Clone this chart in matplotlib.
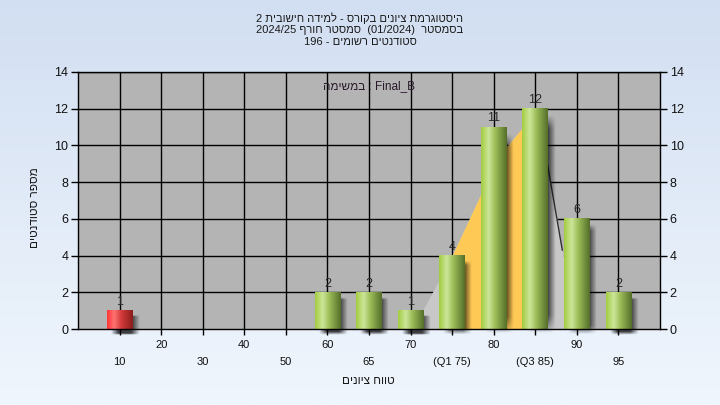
import re
import matplotlib
matplotlib.use("Agg")
import matplotlib.pyplot as plt
import numpy as np
from matplotlib.colors import LinearSegmentedColormap

plt.rcParams['font.family'] = ['Liberation Sans', 'DejaVu Sans']

# נתונים
categories = ["10", "20", "30", "40", "50", "60", "65", "70", "(Q1 75)", "80", "(Q3 85)", "90", "95"]
counts = [1, 0, 0, 0, 0, 2, 2, 1, 4, 11, 12, 6, 2]
fail_flags = [True] + [False] * 12
# עקומה (מיקום ביחידות קטגוריה, גובה)
curve_x = [8.05, 9.0, 9.7, 10.3, 10.7, 11.1, 11.65, 12.0]
curve_y = [0.0, 4.0, 7.4, 9.9, 11.0, 11.5, 4.3, 0.0]
q1_pos, q3_pos = 9.0, 11.0

title_lines = ["היסטוגרמת ציונים בקורס - למידה חישובית 2",
               "בסמסטר  (01/2024)  סמסטר חורף 2024/25",
               "סטודנטים רשומים - 196"]
legend_word = "במשימה"
legend_name = "Final_B"
xlabel = "טווח ציונים"
ylabel = "מספר סטודנטים"


def heb(s):
    # סדר חזותי פשוט לטקסט מימין לשמאל
    r = s[::-1].translate(str.maketrans("()", ")("))
    return re.sub(r"[0-9A-Za-z/._]+", lambda m: m.group(0)[::-1], r)


W, H = 720, 405
fig = plt.figure(figsize=(W / 100, H / 100), dpi=100)

# רקע מדורג
bg = fig.add_axes([0, 0, 1, 1], zorder=-10)
grad = np.linspace(0, 1, 256).reshape(-1, 1)
bg_cmap = LinearSegmentedColormap.from_list("bg", ["#d2dff2", "#f0f6fd"])
bg.imshow(grad, aspect="auto", cmap=bg_cmap, extent=[0, 1, 0, 1], origin="upper")
bg.axis("off")

ax = fig.add_axes([78 / W, (H - 329) / H, (660 - 78) / W, (329 - 72) / H])
ax.set_facecolor("#b4b4b4")

pos = np.arange(1, len(categories) + 1)

# גריד
for p in pos:
    ax.axvline(p, color="black", lw=1, zorder=0.5)
for yv in range(2, 15, 2):
    ax.axhline(yv, color="black", lw=1, zorder=0.5)

# עקומה
ax.fill_between(curve_x, curve_y, 0, color="#c8c8c8", lw=0, zorder=1)
cx = np.linspace(q1_pos, q3_pos, 50)
cy = np.interp(cx, curve_x, curve_y)
ax.fill_between(cx, cy, 0, color="#ffc955", lw=0, zorder=1.1)
ax.plot(curve_x[5:7], curve_y[5:7], color="#303030", lw=1, zorder=1.2)

green = LinearSegmentedColormap.from_list(
    "g", [(0, "#a2cc40"), (0.3, "#cde69a"), (0.55, "#9dbd58"), (1, "#546e2a")])
red = LinearSegmentedColormap.from_list(
    "r", [(0, "#ff3434"), (0.28, "#ff7272"), (0.55, "#d43a3a"), (1, "#8a1c1c")])
bw = 0.62
hgrad = np.linspace(0, 1, 256).reshape(1, -1)

for p, c, bad in zip(pos, counts, fail_flags):
    if c == 0:
        continue
    x0, x1 = p - bw / 2, p + bw / 2
    # צל
    sx0, sx1, sy0, sy1 = x0 + 0.1, x1 + 0.16, -0.3, c - 0.25
    nx, ny = 60, 60
    u = np.linspace(0, 1, nx)
    v = np.linspace(0, 1, ny)
    fx = np.clip(np.minimum(u / 0.25, (1 - u) / 0.3), 0, 1)
    fy = np.clip(np.minimum(v / 0.08, (1 - v) / 0.06), 0, 1)
    sh = np.zeros((ny, nx, 4))
    sh[..., 3] = 0.75 * np.outer(fy, fx)
    ax.imshow(sh, extent=[sx0, sx1, sy0, sy1], aspect="auto", origin="lower",
              zorder=1.5, interpolation="bilinear", clip_on=False)
    ax.imshow(hgrad, extent=[x0, x1, 0, c], aspect="auto", origin="lower",
              cmap=red if bad else green, zorder=2, interpolation="bilinear")
    ax.annotate(str(c), (p, c), xytext=(0, 2), textcoords="offset points",
                ha="center", va="bottom", fontsize=9, color="#2a2a2a", zorder=3)

ax.set_xlim(0, 14)
ax.set_ylim(0, 14)
ax.set_yticks(range(0, 15, 2))
ax.set_xticks(pos)
ax.set_xticklabels([])
ax.tick_params(axis="x", direction="out", length=4, width=1, color="black")
ax.tick_params(axis="y", direction="out", length=5, width=1, color="black",
               labelsize=9, labelcolor="#111111", right=True, labelright=True, pad=2)
for s in ax.spines.values():
    s.set_color("black")
    s.set_linewidth(1)

# תוויות ציר x בשתי שורות
for i, (p, lab) in enumerate(zip(pos, categories)):
    off = -33 if i % 2 == 0 else -16
    ax.annotate(lab, (p, 0), xycoords=("data", "axes fraction"), xytext=(0, off),
                textcoords="offset pixels", ha="center", va="center",
                fontsize=8, color="#111111", annotation_clip=False)

for i, line in enumerate(title_lines):
    fig.text(360 / W, 1 - (18 + 12 * i) / H, heb(line), ha="center", va="center",
             fontsize=8, color="#1a1a1a")

ax.text(0.5, 0.945, heb(legend_word) + " : " + legend_name, transform=ax.transAxes,
        ha="center", va="center", fontsize=8.5, color="#2a1a2a", zorder=4)

fig.text(368 / W, 1 - 381 / H, heb(xlabel), ha="center", va="center",
         fontsize=8.5, color="#1a1a1a")
fig.text(35 / W, 1 - 208 / H, heb(ylabel), ha="center", va="center",
         rotation=90, fontsize=8.5, color="#1a1a1a")

fig.savefig("out.png", dpi=100)
